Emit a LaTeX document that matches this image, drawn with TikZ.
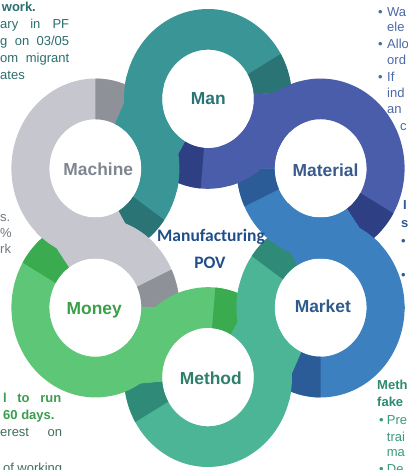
\documentclass[tikz,border=0pt]{standalone}
\usepackage{fontspec}
\setmainfont{Liberation Sans}
\newfontfamily\carl{Carlito}
\definecolor{manc}{HTML}{3A9597}\definecolor{mand}{HTML}{2B7475}
\definecolor{macc}{HTML}{C6C7CE}\definecolor{macd}{HTML}{8F9199}
\definecolor{monc}{HTML}{5EC777}\definecolor{mond}{HTML}{3AAB4F}
\definecolor{metc}{HTML}{4CB596}\definecolor{metd}{HTML}{2F8A78}
\definecolor{mktc}{HTML}{3D80BF}\definecolor{mktd}{HTML}{2C5C98}
\definecolor{matc}{HTML}{4A5DAB}\definecolor{matd}{HTML}{2F3F83}
\definecolor{mant}{HTML}{2A7476}\definecolor{mact}{HTML}{7F868F}
\definecolor{mont}{HTML}{3A9F47}\definecolor{mett}{HTML}{2F7F6A}
\definecolor{mktt}{HTML}{2F5B8C}\definecolor{matt}{HTML}{3B5A8B}
\definecolor{povt}{HTML}{1F4E8A}
\definecolor{tlt}{HTML}{2A6E6E}\definecolor{lgt}{HTML}{6E7780}
\definecolor{blg}{HTML}{3A9D4F}\definecolor{blr}{HTML}{3F6F5C}
\definecolor{trt}{HTML}{4A6AA8}\definecolor{rmt}{HTML}{2F5A95}
\definecolor{brb}{HTML}{2E8A70}\definecolor{brr}{HTML}{3A9A7F}
% annular sector: colour, angle of ring centre, start angle, end angle
\newcommand{\ringsector}[4]{%
  \fill[#1] (#2:130) ++(#3:84) arc[start angle=#3, end angle=#4, radius=84]
    -- ++({#4+180}:38) arc[start angle=#4, end angle=#3, radius=46] -- cycle;}
\begin{document}
\begin{tikzpicture}[x=1pt,y=1pt,
  side/.style={anchor=base west, inner sep=0pt, font=\fontsize{13}{16}\selectfont},
  sider/.style={anchor=base east, inner sep=0pt, font=\fontsize{13}{16}\selectfont},
  lbl/.style={anchor=base, inner sep=0pt, font=\fontsize{17.4}{20}\selectfont\bfseries},
  pov/.style={anchor=base, inner sep=0pt, text=povt, font=\carl\fontsize{17.5}{20}\selectfont\bfseries}]
\useasboundingbox (0,0) rectangle (407,470);
\fill[white] (0,0) rectangle (407,470);

% ---- side texts (partly cut by the page edge) ----
\node[side, text=tlt, font=\fontsize{13}{16}\selectfont\bfseries] (tl1) at (1.7,458) {work.};
\node[side, text=tlt] (tl2) at (0,441) {\hbox to 69pt{ary\hfill in\hfill PF}};
\node[side, text=tlt] (tl3) at (0,424) {\hbox to 69pt{g\hfill on\hfill 03/05}};
\node[side, text=tlt] (tl4) at (0,407) {\hbox to 69pt{om\hfill migrant}};
\node[side, text=tlt] (tl5) at (0,390) {ates};

\node[side, text=lgt] (lm1) at (0,248) {s.};
\node[side, text=lgt] (lm2) at (0,232) {\%};
\node[side, text=lgt] (lm3) at (0,216) {rk};

\node[side, text=blg, font=\fontsize{13}{16}\selectfont\bfseries] (bl1) at (3,67) {\hbox to 58pt{l\hfill to\hfill run}};
\node[side, text=blg, font=\fontsize{13}{16}\selectfont\bfseries] (bl2) at (3,50) {60 days.};
\node[side, text=blr] (bl3) at (0,33) {\hbox to 62pt{erest\hfill on}};
\node[side, text=blr] (bl4) at (3,-2) {\hbox to 59pt{of\hfill working}};

\node[side, text=trt] (tb1) at (378,453.3) {•};
\node[side, text=trt] (tr1) at (387,453.3) {Wa};
\node[side, text=trt] (tr2) at (387,438) {ele};
\node[side, text=trt] (tb2) at (378,421) {•};
\node[side, text=trt] (tr3) at (387,421) {Allo};
\node[side, text=trt] (tr4) at (387,405) {ord};
\node[side, text=trt] (tb3) at (378,388.5) {•};
\node[side, text=trt] (tr5) at (387,388.5) {If};
\node[side, text=trt] (tr6) at (387,372.5) {ind};
\node[side, text=trt] (tr7) at (387,356.5) {an};
\node[side, text=trt] (tr8) at (400,339) {c};

\node[side, text=rmt, font=\fontsize{13}{16}\selectfont\bfseries] (rm1) at (403,260) {I};
\node[side, text=rmt, font=\fontsize{13}{16}\selectfont\bfseries] (rm2) at (401,242) {s};
\node[side, text=rmt] (rm3) at (401,224.5) {•};
\node[side, text=rmt] (rm4) at (401,190.5) {•};
\node[side, text=rmt] (rm5) at (401,157.5) {•};

\node[side, text=brb, font=\fontsize{13}{16}\selectfont\bfseries] (br1) at (377,80) {Meth};
\node[side, text=brb, font=\fontsize{13}{16}\selectfont\bfseries] (br2) at (377,63.3) {fake};
\node[side, text=brr] (bb1) at (379,45) {•};
\node[side, text=brr] (br3) at (386.7,45) {Pre};
\node[side, text=brr] (br4) at (386.7,28.3) {trai};
\node[side, text=brr] (br5) at (386.7,13.3) {ma};
\node[side, text=brr] (bb2) at (379,-3) {•};
\node[side, text=brr] (br6) at (386.7,-3) {De};

% ---- interlocking rings ----
\begin{scope}[shift={(208,232)}, yscale=1.07]
% layer A: each band = arc on its own ring + arc on the next ring, dark ends
\foreach \t/\col/\dk in {90/manc/mand, 150/macc/macd, 210/monc/mond, 270/metc/metd, 330/mktc/mktd, 30/matc/matd} {
  \pgfmathsetmacro\nx{\t+60}
  \pgfmathsetmacro\sa{\t-85}
  \pgfmathsetmacro\sb{\t-60}
  \pgfmathsetmacro\ea{\t+150}
  \pgfmathsetmacro\se{\t-150}
  \pgfmathsetmacro\sf{\t-125}
  \pgfmathsetmacro\eb{\t-25}
  \ringsector{\col}{\t}{\sa}{\ea}
  \ringsector{\col}{\nx}{\se}{\eb}
  \ringsector{\dk}{\t}{\sa}{\sb}
  \ringsector{\dk}{\nx}{\se}{\sf}
}
% layer B: crossing parts on top
\foreach \t/\col in {90/manc, 150/macc, 210/monc, 270/metc, 330/mktc, 30/matc} {
  \pgfmathsetmacro\nx{\t+60}
  \pgfmathsetmacro\pa{\t+75}
  \pgfmathsetmacro\ea{\t+150}
  \pgfmathsetmacro\pb{\t-105}
  \pgfmathsetmacro\eb{\t-25}
  \ringsector{\col}{\t}{\pa}{\ea}
  \ringsector{\col}{\nx}{\pb}{\eb}
}
\end{scope}

% ---- labels ----
\node[lbl, text=mant] (man) at (208.3,365) {Man};
\node[lbl, text=mact] (machine) at (98.3,294) {Machine};
\node[lbl, text=matt] (material) at (325.5,293.5) {Material};
\node[lbl, text=mktt] (market) at (322.8,157) {Market};
\node[lbl, text=mont] (money) at (94.2,155) {Money};
\node[lbl, text=mett] (method) at (210.8,85) {Method};
\node[pov] (mf) at (211,228) {Manufacturing};
\node[pov] (pv) at (210,201) {POV};
\end{tikzpicture}
\end{document}
